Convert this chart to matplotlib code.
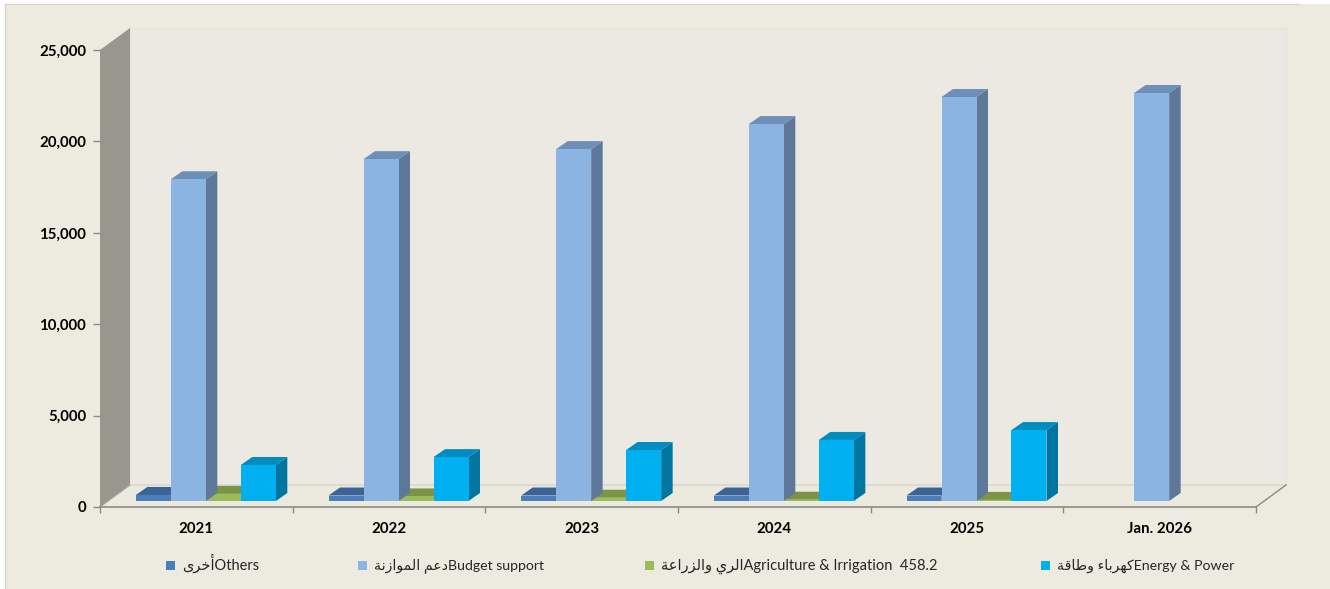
import matplotlib
matplotlib.use("Agg")
import matplotlib.pyplot as plt
from matplotlib.patches import Polygon, Rectangle
from matplotlib.lines import Line2D

plt.rcParams['font.family'] = ['Lato', 'DejaVu Sans']

categories = ['2021', '2022', '2023', '2024', '2025', 'Jan. 2026']
others = [330, 300, 300, 300, 300, 0]
budget = [17600, 18700, 19250, 20620, 22100, 22320]
agriculture = [390, 250, 180, 70, 60, 0]
energy = [1970, 2400, 2790, 3340, 3880, 0]
y_ticks = [0, 5000, 10000, 15000, 20000, 25000]

# Arabic in visual order, using presentation forms (matplotlib has no shaping)
ar_others = '\uFEEF\uFEAE\uFEA7\uFE83'
ar_budget = '\uFE94\uFEE7\uFEAF\uFE8D\uFEEE\uFEE4\uFEDF\uFE8D \uFEE2\uFECB\uFEA9'
ar_agri = '\uFE94\uFECB\uFE8D\uFEAD\uFEB0\uFEDF\uFE8D\uFEED \uFEF1\uFEAE\uFEDF\uFE8D'
ar_energy = '\uFE94\uFED7\uFE8E\uFEC3\uFEED \uFE80\uFE8E\uFE91\uFEAE\uFEEC\uFEDB'
series_labels = [ar_others + 'Others', ar_budget + 'Budget support',
                 ar_agri + 'Agriculture & Irrigation  458.2', ar_energy + 'Energy & Power']
series = [others, budget, agriculture, energy]

front = ['#4A7EBB', '#8CB4E3', '#9BBB59', '#00B0F0']
top = ['#3A6498', '#6E8FB8', '#7A9546', '#008CBF']
side = ['#2F5380', '#5D7899', '#657B3A', '#00759F']
legend_x = [166, 358, 645, 1041]
legend_size = [10.5, 10.2, 10.55, 10.2]

W, H = 1330, 589
BG = '#EDEBE0'
fig = plt.figure(figsize=(W / 100, H / 100), dpi=100, facecolor='white')
fig.add_artist(Rectangle((5 / W, 0), (W - 5) / W, (H - 4) / H, transform=fig.transFigure,
                         facecolor=BG, edgecolor='none', zorder=-2))
fig.add_artist(Line2D([5 / W, 5 / W, 1298 / W], [0, (H - 4) / H, (H - 4) / H], transform=fig.transFigure,
                      color='#D5D5D0', lw=1, zorder=-1))

L, R, T, B = 100, 1256, 50, 507
ax = fig.add_axes([L / W, (H - B) / H, (R - L) / W, (B - T) / H])
ax.set_xlim(0, 6)
ax.set_ylim(0, 25000)
ax.patch.set_alpha(0)

px = 6 / (R - L)
py = 25000 / (B - T)
DX, DY = 30 * px, 22 * py        # full chart depth
oX, oY = 9.5 * px, 6 * py        # bar offset from the front plane
dX, dY = 11.5 * px, 8 * py       # bar depth
bw = 35 * px


def poly(pts, fc, ec='none', lw=0, z=2):
    ax.add_patch(Polygon(pts, closed=True, facecolor=fc, edgecolor=ec, linewidth=lw,
                         zorder=z, clip_on=False))


# walls and floor
poly([(DX, DY), (6 + DX, DY), (6 + DX, 25000 + DY), (DX, 25000 + DY)], '#ECE9E2', '#E6E4DA', 0.8, 1)
poly([(0, 0), (DX, DY), (DX, 25000 + DY), (0, 25000)], '#98968D', z=1.2)
poly([(0, 0), (6, 0), (6 + DX, DY), (DX, DY)], '#ECEADF', z=1.1)
ax.plot([DX, 6 + DX], [DY, DY], color='#DAD7CD', lw=1.2, zorder=1.3, clip_on=False)
ax.plot([0, DX], [0, DY], color='#A6A49C', lw=0.8, zorder=1.3, clip_on=False)
ax.plot([6, 6 + DX], [0, DY], color='#8C8B84', lw=1, zorder=1.3, clip_on=False)

# bars, back to front within each group
n = len(series)
for i in range(len(categories)):
    for j, vals in enumerate(series):
        v = vals[i]
        if v <= 0:
            continue
        x0 = i + 0.5 + oX + (j - n / 2) * bw
        x1 = x0 + bw
        y0, y1 = oY, oY + v
        z = 3 - j * 0.01 if j == 2 else 3 + j * 0.01
        poly([(x1, y0), (x1 + dX, y0 + dY), (x1 + dX, y1 + dY), (x1, y1)], side[j], z=z)
        poly([(x0, y1), (x1, y1), (x1 + dX, y1 + dY), (x0 + dX, y1 + dY)], top[j], z=z)
        poly([(x0, y0), (x1, y0), (x1, y1), (x0, y1)], front[j], z=z)

# axes
for s in ['top', 'right', 'left']:
    ax.spines[s].set_visible(False)
ax.spines['bottom'].set_color('#8C8B84')
ax.spines['bottom'].set_linewidth(1.2)
ax.set_yticks(y_ticks)
ax.set_yticklabels([f'{t:,}' for t in y_ticks], fontsize=10.8, fontweight='bold', color='black')
ax.set_xticks(range(7))
ax.set_xticklabels([])
ax.set_xticks([i + 0.5 for i in range(6)], minor=True)
ax.set_xticklabels(categories, minor=True, fontsize=10.8, fontweight='bold', color='black')
ax.tick_params(axis='y', length=5, width=1, color='#8C8B84', pad=5)
ax.tick_params(axis='x', which='major', direction='out', length=4, width=1, color='#8C8B84')
ax.tick_params(axis='x', which='minor', length=0, pad=11)

# legend
for xp, c, lab, fs in zip(legend_x, front, series_labels, legend_size):
    fig.add_artist(Rectangle((xp / W, (H - 570) / H), 9 / W, 9 / H, transform=fig.transFigure,
                             facecolor=c, edgecolor='none'))
    fig.text((xp + 16) / W, (H - 569.5) / H, lab, fontsize=fs, color='#262626', va='baseline', ha='left')

fig.savefig('out.png', dpi=100, facecolor='white')
